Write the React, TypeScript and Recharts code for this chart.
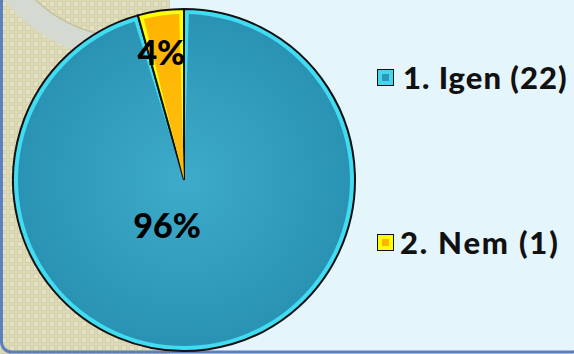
import React from 'react';
import { PieChart, Pie, Cell, Sector, Legend } from 'recharts';

const categories = ['Igen', 'Nem'];
const counts = [22, 1];

const data = categories.map((name, i) => ({ name, value: counts[i] }));

const FILLS = ['url(#blueFill)', 'url(#orangeFill)'];
const BORDERS = ['#3fdcf2', '#ffff00'];
const RADIAN = Math.PI / 180;

const renderSlice = (props: any) => {
  const { cx, cy, innerRadius, outerRadius, startAngle, endAngle } = props;
  const name = props.payload?.name ?? props.name;
  const idx = Math.max(0, categories.indexOf(name));
  const inset = 5;
  const angInset = inset / outerRadius / RADIAN;
  const dir = endAngle < startAngle ? -1 : 1;
  return (
    <g>
      <Sector
        cx={cx}
        cy={cy}
        innerRadius={innerRadius}
        outerRadius={outerRadius}
        startAngle={startAngle}
        endAngle={endAngle}
        fill={BORDERS[idx]}
        stroke="#111"
        strokeWidth={2}
      />
      <Sector
        cx={cx}
        cy={cy}
        innerRadius={0}
        outerRadius={outerRadius - inset}
        startAngle={startAngle + dir * angInset}
        endAngle={endAngle - dir * angInset}
        fill={FILLS[idx]}
        stroke="none"
      />
    </g>
  );
};

const renderLabel = (props: any) => {
  const { cx, cy, midAngle, outerRadius, index, percent } = props;
  const cfg = index === 0 ? { r: 0.263, dx: -23 } : { r: 0.76, dx: -5 };
  const x = cx + outerRadius * cfg.r * Math.cos(-midAngle * RADIAN) + cfg.dx;
  const y = cy + outerRadius * cfg.r * Math.sin(-midAngle * RADIAN);
  return (
    <text
      x={x}
      y={y}
      textAnchor="middle"
      dominantBaseline="central"
      fontFamily="Lato, 'DejaVu Sans', sans-serif"
      fontWeight={900}
      fontSize={34}
      fill="#000"
    >
      {`${Math.round(percent * 100)}%`}
    </text>
  );
};

const LegendIcon = ({ outer, inner }: { outer: string; inner: string }) => (
  <div
    style={{
      width: 15,
      height: 15,
      border: '1.5px solid #111',
      background: outer,
      position: 'relative',
      flex: '0 0 auto',
    }}
  >
    <div
      style={{
        position: 'absolute',
        left: 4,
        top: 4,
        width: 7,
        height: 7,
        background: inner,
      }}
    />
  </div>
);

const iconColors = [
  { outer: '#45d6ee', inner: '#2a98b8' },
  { outer: '#ffff00', inner: '#ffb400' },
];

const renderLegend = () => (
  <div style={{ position: 'relative', width: 197, height: 200 }}>
    {data.map((d, i) => (
      <div
        key={d.name}
        style={{
          position: 'absolute',
          left: 0,
          top: i === 0 ? 0 : 165,
          display: 'flex',
          alignItems: 'center',
          height: 22,
          whiteSpace: 'nowrap',
        }}
      >
        <LegendIcon outer={iconColors[i].outer} inner={iconColors[i].inner} />
        <span
          style={{
            marginLeft: i === 0 ? 9 : 6,
            fontFamily: "Lato, 'DejaVu Sans', sans-serif",
            fontWeight: 900,
            fontSize: 31,
            letterSpacing: i === 0 ? 1 : 1.8,
            color: '#111',
            lineHeight: '22px',
          }}
        >
          {`${i + 1}. ${d.name} (${d.value})`}
        </span>
      </div>
    ))}
  </div>
);

const Background = () => (
  <svg width={574} height={354} style={{ position: 'absolute', left: 0, top: 0 }}>
    <defs>
      <pattern id="beigePat" x={0} y={0} width={8} height={8} patternUnits="userSpaceOnUse">
        <rect width={8} height={8} fill="#dcd9b6" />
        <rect x={1.5} y={1.5} width={5} height={5} fill="#e4e1c6" stroke="#d3cfa9" strokeWidth={1} />
      </pattern>
      <clipPath id="beigeClip">
        <rect x={0} y={0} width={170} height={354} />
      </clipPath>
      <radialGradient id="blueFill" cx="50%" cy="50%" r="50%">
        <stop offset="0%" stopColor="#3eabcb" />
        <stop offset="100%" stopColor="#2a93b3" />
      </radialGradient>
      <linearGradient id="orangeFill" x1="0" y1="0" x2="0" y2="1">
        <stop offset="0%" stopColor="#ffb400" />
        <stop offset="100%" stopColor="#ffbe10" />
      </linearGradient>
    </defs>
    <rect x={0} y={0} width={574} height={354} fill="#e5f5fc" />
    <rect x={0} y={0} width={170} height={354} fill="url(#beigePat)" />
    <g clipPath="url(#beigeClip)">
      <circle cx={130} cy={-100} r={149} fill="none" stroke="#d4dad2" strokeWidth={23} />
      <circle cx={130} cy={-100} r={137.5} fill="none" stroke="#c4c1a0" strokeWidth={1.5} />
    </g>
    <rect x={1.5} y={-20} width={580} height={372} rx={10} fill="none" stroke="#5b80c0" strokeWidth={3} />
  </svg>
);

export default function App() {
  return (
    <div
      style={{
        position: 'absolute',
        left: 0,
        top: 0,
        width: 574,
        height: 354,
        overflow: 'hidden',
      }}
    >
      <Background />
      <div style={{ position: 'absolute', left: 0, top: 0 }}>
        <PieChart width={574} height={354} margin={{ top: 0, right: 0, bottom: 0, left: 0 }}>
          <Pie
            data={data}
            dataKey="value"
            nameKey="name"
            cx={184}
            cy={180}
            innerRadius={0}
            outerRadius={171}
            startAngle={90}
            endAngle={-270}
            stroke="#111"
            strokeWidth={2}
            shape={renderSlice}
            label={renderLabel}
            labelLine={false}
            isAnimationActive={false}
          >
            {data.map((d, i) => (
              <Cell key={d.name} fill={FILLS[i]} />
            ))}
          </Pie>
          <Legend
            content={renderLegend}
            wrapperStyle={{ position: 'absolute', left: 377, top: 66, width: 197 }}
          />
        </PieChart>
      </div>
    </div>
  );
}
